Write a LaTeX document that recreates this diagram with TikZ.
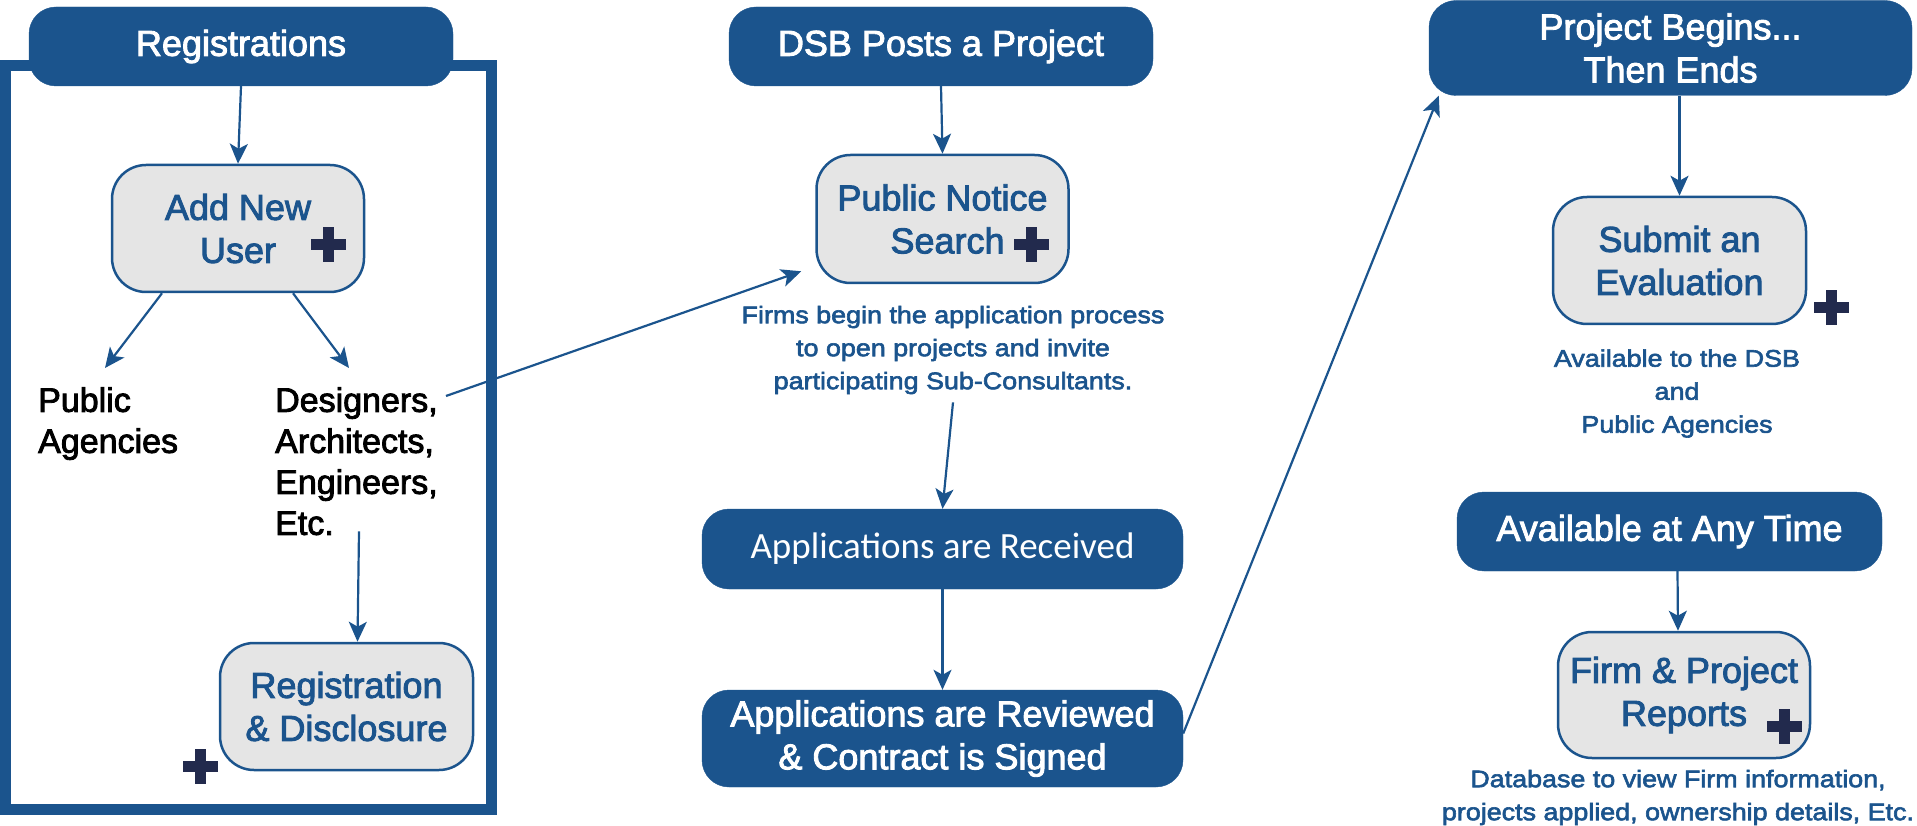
\documentclass[tikz,border=0pt]{standalone}
\usepackage{fontspec}
\setmainfont{Liberation Sans}[FakeBold=2.5]
\newfontfamily\notefamily{Liberation Sans}[FakeBold=2.5,FakeStretch=1.12]
\newfontfamily\calfamily{Carlito}
\usetikzlibrary{arrows.meta}
\definecolor{hblue}{HTML}{1B548D}
\definecolor{boxgray}{HTML}{E5E5E5}
\definecolor{plusnavy}{HTML}{222A4D}
\tikzset{
  head/.style={fill=hblue, draw=hblue, rounded corners=27pt, text=white, align=center,
    inner sep=0pt, font=\fontsize{36}{43}\selectfont},
  tool/.style={fill=boxgray, draw=hblue, line width=2.5pt, rounded corners=34pt, text=hblue,
    align=center, inner sep=0pt, minimum width=252pt, minimum height=127pt,
    font=\fontsize{36}{43}\selectfont},
  who/.style={anchor=north west, align=left, inner sep=0pt, font=\fontsize{34}{41}\selectfont},
  note/.style={text=hblue, align=center, inner sep=0pt, font=\notefamily\fontsize{24}{33}\selectfont},
  arr/.style={draw=hblue, line width=2.2pt, -{Stealth[length=20pt,width=18pt,inset=5pt]}},
  plusmark/.pic={
    \fill[plusnavy] (-17.5,-5.5) rectangle (17.5,5.5);
    \fill[plusnavy] (-5.5,-17.5) rectangle (5.5,17.5);
  }
}
\begin{document}
\begin{tikzpicture}[x=1pt, y=-1pt]
  \useasboundingbox (0,0) rectangle (1917,826);
  %
  \draw[hblue, line width=11pt] (5.5,65.5) rectangle (491,809);   % registration frame
  \node[head, minimum width=424pt, minimum height=79pt] (reg) at (241,46.5) {Registrations};
  \node[tool] (adduser) at (238,228.5) {Add New\\User};
  \pic at (328,245) {plusmark};
  \node[who] (agencies) at (38,387) {Public\\Agencies};
  \node[who] (designers) at (275,387) {Designers,\\Architects,\\Engineers,\\Etc.};
  \node[tool, minimum width=253pt] (regdisc) at (346.5,706.5) {Registration\\\& Disclosure};
  \pic at (200.5,766.5) {plusmark};
  %
  \node[head, minimum width=424pt, minimum height=79pt] (dsb) at (941,46.5) {DSB Posts a Project};
  \node[tool, minimum height=128pt] (notice) at (942.5,219) {Public Notice\\\hspace*{10pt}Search};
  \pic at (1031.5,245) {plusmark};
  \node[note] (firmsnote) at (953,350) {Firms begin the application process\\to open projects and invite\\participating Sub-Consultants.};
  \node[head, font=\calfamily\fontsize{37}{43}\selectfont, minimum width=481pt, minimum height=80pt] (received) at (942.5,549) {Applications are Received};
  \node[head, minimum width=481pt, minimum height=97pt] (reviewed) at (942.5,738.5) {Applications are Reviewed\\\& Contract is Signed};
  %
  \node[head, minimum width=483pt, minimum height=95pt] (begins) at (1670.5,48) {Project Begins...\\Then Ends};
  \node[tool, minimum width=253pt] (evaluation) at (1679.5,260.5) {Submit an\\Evaluation};
  \pic at (1831.5,308) {plusmark};
  \node[note] (dsbnote) at (1677,393.5) {Available to the DSB\\and\\Public Agencies};
  \node[head, minimum width=425pt, minimum height=79pt] (anytime) at (1669.5,531.5) {Available at Any Time};
  \node[tool, minimum height=126pt] (reports) at (1684,695) {Firm \& Project\\Reports};
  \pic at (1784,726.5) {plusmark};
  \node[note] (dbnote) at (1678,797.5) {Database to view Firm information,\\projects applied, ownership details, Etc.};
  %
  \draw[arr] (reg.south) -- (adduser.north);
  \draw[arr] ([xshift=-76pt]adduser.south) -- ([xshift=67pt,yshift=19pt]agencies.north west);
  \draw[arr] ([xshift=55pt]adduser.south) -- ([xshift=74pt,yshift=19pt]designers.north west);
  \draw[arr] ([xshift=84pt,yshift=4pt]designers.south west) -- ([xshift=11pt]regdisc.north);
  \draw[arr] ([xshift=171pt,yshift=-9pt]designers.north west) -- ([xshift=-14pt,yshift=13pt]notice.south west);
  \draw[arr] (dsb.south) -- (notice.north);
  \draw[arr] ([yshift=-8pt]firmsnote.south) -- (received.north);
  \draw[arr] (received) -- (reviewed);
  \draw[arr] ([yshift=5pt]reviewed.east) -- ([xshift=10pt]begins.south west);
  \draw[arr] (evaluation.north |- begins.south) -- (evaluation.north);
  \draw[arr] ([xshift=8pt]anytime.south) -- ([xshift=-6pt]reports.north);
\end{tikzpicture}
\end{document}
